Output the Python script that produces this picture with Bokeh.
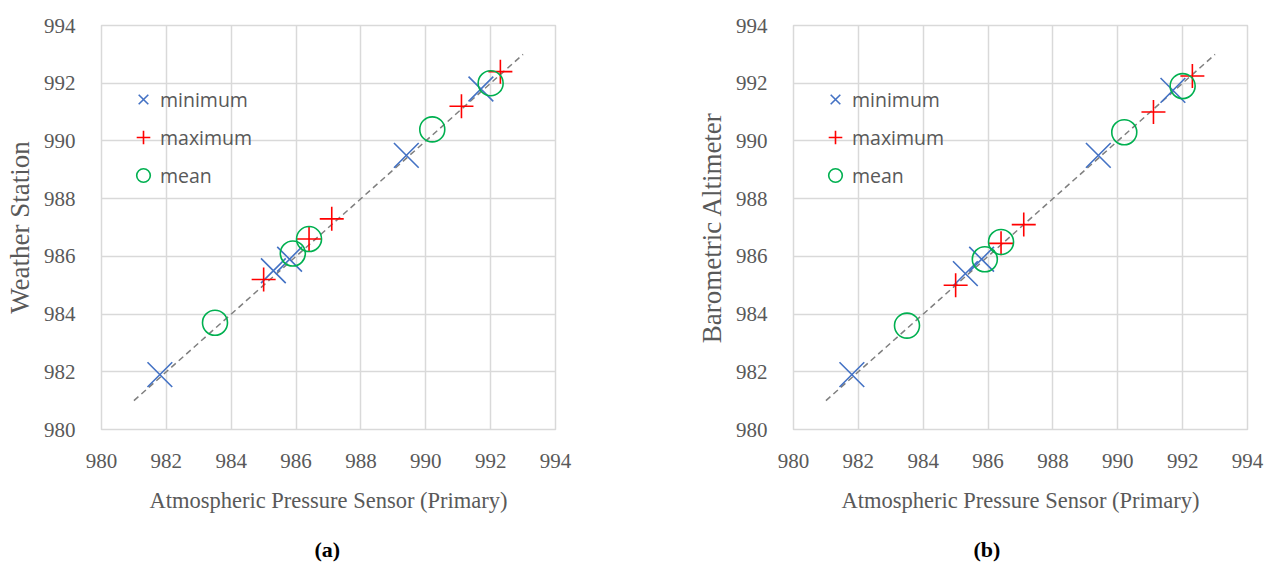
from bokeh.plotting import figure
from bokeh.layouts import row
from bokeh.models import Range1d, SingleIntervalTicker, Legend, LegendItem, Title
from bokeh.embed import file_html
from bokeh.resources import INLINE

# ---- data ----
primary_min = [981.8, 985.3, 985.8, 989.4, 991.7]
primary_max = [985.0, 986.4, 987.1, 991.1, 992.3]
primary_mean = [983.5, 985.9, 986.4, 990.2, 992.0]

station_min = [981.9, 985.5, 985.9, 989.5, 991.8]
station_max = [985.2, 986.6, 987.3, 991.2, 992.4]
station_mean = [983.7, 986.1, 986.6, 990.4, 992.0]

altimeter_min = [981.9, 985.4, 985.9, 989.5, 991.75]
altimeter_max = [985.0, 986.45, 987.1, 991.0, 992.25]
altimeter_mean = [983.6, 985.9, 986.5, 990.3, 991.9]

ref_line = [981, 993]
axis_range = [980, 994]
series_names = ["minimum", "maximum", "mean"]

x_title = "Atmospheric Pressure Sensor (Primary)"

GRID = "#d9d9d9"
TXT = "#595959"
BLUE = "#4472C4"
RED = "#FF0000"
GREEN = "#00B050"


def make_panel(ys, ylabel, caption, left, right, cap_offset):
    p = figure(
        frame_width=454, frame_height=404,
        min_border_left=left, min_border_right=right,
        min_border_top=25, min_border_bottom=134,
        x_range=Range1d(*axis_range), y_range=Range1d(*axis_range),
        output_backend="svg", toolbar_location=None,
        background_fill_color="white", border_fill_color="white",
    )
    p.outline_line_color = GRID
    p.outline_line_width = 1.5
    for ax in (p.xaxis[0], p.yaxis[0]):
        ax.ticker = SingleIntervalTicker(interval=2)
        ax.axis_line_color = None
        ax.major_tick_line_color = None
        ax.minor_tick_line_color = None
        ax.major_label_text_font = "Liberation Serif"
        ax.major_label_text_font_size = "21px"
        ax.major_label_text_color = TXT
        ax.axis_label_text_font = "Liberation Serif"
        ax.axis_label_text_font_style = "normal"
        ax.axis_label_text_color = TXT
    p.xaxis.axis_label_text_font_size = "22.5px"
    p.yaxis.axis_label_text_font_size = "27px"
    p.xaxis.major_label_standoff = 18
    p.yaxis.major_label_standoff = 20
    p.xaxis.axis_label = x_title
    p.yaxis.axis_label = ylabel
    p.xaxis.axis_label_standoff = 17
    p.yaxis.axis_label_standoff = 6
    p.xgrid.ticker = SingleIntervalTicker(interval=2)
    p.ygrid.ticker = SingleIntervalTicker(interval=2)
    p.grid.grid_line_color = GRID
    p.grid.grid_line_width = 1.5

    p.line(ref_line, ref_line, line_color="#7f7f7f", line_width=1.5, line_dash="6 4")

    r_min = p.scatter(primary_min, ys[0], marker="x", size=35, line_color=BLUE, line_width=1.6)
    r_max = p.scatter(primary_max, ys[1], marker="cross", size=24, line_color=RED, line_width=1.6)
    r_mean = p.scatter(primary_mean, ys[2], marker="circle", size=25, line_color=GREEN,
                       fill_color=None, line_width=1.6)

    legend = Legend(
        items=[LegendItem(label=series_names[0], renderers=[r_min]),
               LegendItem(label=series_names[1], renderers=[r_max]),
               LegendItem(label=series_names[2], renderers=[r_mean])],
        location=(25, 237), orientation="vertical",
        glyph_width=34, glyph_height=34, spacing=4, padding=0, margin=0,
        label_standoff=0,
        label_text_font="Open Sans", label_text_font_size="19.5px",
        label_text_color=TXT,
        border_line_color=None, background_fill_alpha=0,
    )
    p.add_layout(legend)

    p.add_layout(Title(text=caption, align="left", offset=cap_offset, standoff=38,
                       text_font="Liberation Serif", text_font_size="22px",
                       text_font_style="bold", text_color="black"), "below")
    return p


pa = make_panel([station_min, station_max, station_mean], "Weather Station", "(a)", 101, 81, 213)
pb = make_panel([altimeter_min, altimeter_max, altimeter_mean], "Barometric Altimeter", "(b)", 157, 26, 180)

layout = row(pa, pb)
open("out.html", "w").write(file_html(layout, INLINE))
